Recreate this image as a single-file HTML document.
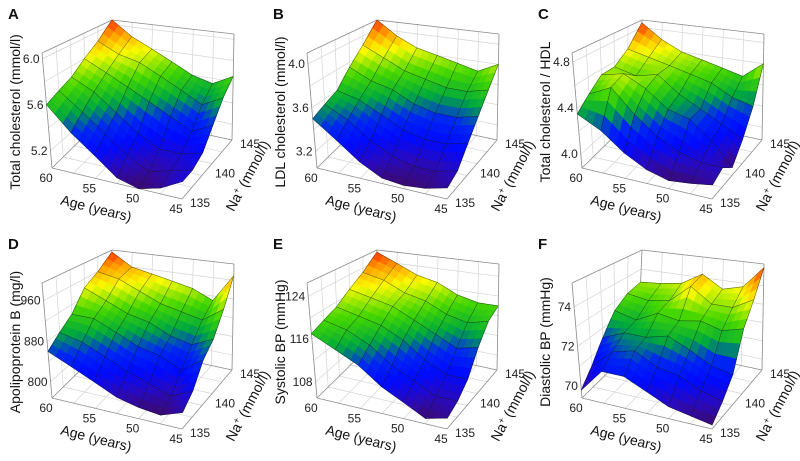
<!DOCTYPE html>
<html><head><meta charset="utf-8">
<style>
html,body{margin:0;padding:0;background:#fff;}
svg{display:block;font-family:"Liberation Sans",Arial,sans-serif;}
</style></head>
<body>
<svg id="chart" width="800" height="461" viewBox="0 0 800 461" xmlns="http://www.w3.org/2000/svg"></svg>
<script>
// ---- data (rows: Na 135..145, cols: age 60..45) ----
const ages = [60, 57.5, 55, 52.5, 50, 47.5, 45];
const sodium = [135, 137, 139, 141, 143, 145];
const ageTicks = [60, 55, 50, 45];
const naTicks = [135, 140, 145];
const panelLetters = ["A","B","C","D","E","F"];
const panelTitles = ["Total cholesterol (mmol/l)","LDL cholesterol (mmol/l)","Total cholesterol / HDL","Apolipoprotein B (mg/l)","Systolic BP (mmHg)","Diastolic BP (mmHg)"];
const zTicksA = [5.2, 5.6, 6.0];
const zTicksB = [3.2, 3.6, 4.0];
const zTicksC = [4.0, 4.4, 4.8];
const zTicksD = [800, 880, 960];
const zTicksE = [108, 116, 124];
const zTicksF = [70, 72, 74];
const zRangeA = [5.05, 6.05];
const zRangeB = [3.05, 4.1];
const zRangeC = [3.88, 4.88];
const zRangeD = [768, 995];
const zRangeE = [105, 126.5];
const zRangeF = [69.4, 75.2];
const valuesA = [
 [5.6,5.4,5.25,5.1,5.05,5.1,5.2],
 [5.65,5.5,5.35,5.2,5.1,5.15,5.2],
 [5.7,5.6,5.45,5.3,5.2,5.2,5.25],
 [5.8,5.7,5.6,5.5,5.4,5.3,5.4],
 [5.9,5.8,5.75,5.65,5.55,5.45,5.55],
 [6.05,5.9,5.8,5.7,5.6,5.55,5.65]];
const valuesB = [
 [3.5,3.35,3.2,3.1,3.08,3.1,3.15],
 [3.55,3.45,3.3,3.2,3.15,3.15,3.2],
 [3.6,3.55,3.45,3.35,3.3,3.3,3.35],
 [3.75,3.65,3.6,3.5,3.45,3.45,3.5],
 [3.9,3.8,3.7,3.65,3.6,3.6,3.65],
 [4.1,3.95,3.85,3.8,3.75,3.7,3.8]];
const valuesC = [
 [4.35,4.25,4.1,4.0,3.95,3.97,4.0],
 [4.45,4.55,4.35,4.2,4.1,4.05,4.05],
 [4.55,4.6,4.5,4.35,4.3,4.15,3.95],
 [4.55,4.5,4.55,4.4,4.3,4.2,4.1],
 [4.65,4.6,4.55,4.5,4.45,4.35,4.3],
 [4.85,4.7,4.6,4.55,4.5,4.45,4.6]];
const valuesD = [
 [860,840,820,800,790,785,800],
 [880,870,850,830,815,800,820],
 [900,900,880,860,850,830,860],
 [940,920,900,890,870,860,880],
 [960,950,930,910,900,890,920],
 [990,960,950,940,930,910,970]];
const valuesE = [
 [117,115,113,110,108,106,107],
 [118,117,115,112,110,108,108],
 [119,118,117,115,112,110,110],
 [121,120,119,117,115,113,114],
 [123,122,120,119,117,116,117],
 [126,124,122,121,119,118,118]];
const valuesF = [
 [69.8,71,71,70.5,70,69.8,69.6],
 [70.5,71.5,71.8,71.2,71,70.5,70.2],
 [71.5,72,72,72.3,71.8,71.2,71],
 [72.5,72.2,72.8,72.6,72.8,72.5,72.8],
 [73,72.8,73,74,73.2,73.2,73.8],
 [73.2,73.3,73.5,74.2,73.5,73.8,75]];

const panels = [
 {ox:0,oy:0,values:valuesA,ticks:zTicksA,range:zRangeA},
 {ox:265,oy:0,values:valuesB,ticks:zTicksB,range:zRangeB},
 {ox:530,oy:0,values:valuesC,ticks:zTicksC,range:zRangeC},
 {ox:0,oy:230,values:valuesD,ticks:zTicksD,range:zRangeD},
 {ox:265,oy:230,values:valuesE,ticks:zTicksE,range:zRangeE},
 {ox:530,oy:230,values:valuesF,ticks:zTicksF,range:zRangeF}];

const NS = "http://www.w3.org/2000/svg";
const svg = document.getElementById("chart");
const FL = [[52,168],[182,199],[232,140],[108,113]];
const TP = [[42,53],[186,82],[234,34],[112,20]];
function lerp(a,b,t){return [a[0]+(b[0]-a[0])*t,a[1]+(b[1]-a[1])*t];}
function proj(u,v,w,ox,oy){
  const f = lerp(lerp(FL[0],FL[1],u),lerp(FL[3],FL[2],u),v);
  const t = lerp(lerp(TP[0],TP[1],u),lerp(TP[3],TP[2],u),v);
  const p = lerp(f,t,w);
  return [p[0]+ox,p[1]+oy];
}
const stops=[[0,[60,10,110]],[0.1,[40,10,190]],[0.22,[0,10,255]],[0.34,[0,40,240]],[0.46,[0,170,60]],[0.6,[70,215,0]],[0.76,[250,250,0]],[0.89,[255,150,0]],[1,[255,40,0]]];
function cmap(t){
  t=Math.max(0,Math.min(1,t));
  for(let i=1;i<stops.length;i++){ if(t<=stops[i][0]){const a=stops[i-1],b=stops[i];const k=(t-a[0])/(b[0]-a[0]);
    return "rgb("+a[1].map((c,j)=>Math.round(c+(b[1][j]-c)*k)).join(",")+")";}}
  return "rgb(255,40,0)";
}
function el(tag,attrs,parent){const e=document.createElementNS(NS,tag);for(const k in attrs)e.setAttribute(k,attrs[k]);(parent||svg).appendChild(e);return e;}
function line(g,a,b,stroke,w){return el("line",{x1:a[0],y1:a[1],x2:b[0],y2:b[1],stroke:stroke,"stroke-width":w},g);}

panels.forEach((P,pi)=>{
  const g = el("g",{});
  
  
  const {ox,oy,values,ticks,range} = P;
  const zw = z=>(z-range[0])/(range[1]-range[0]);
  const ua = a=>(60-a)/15, vn = n=>(n-135)/10;
  const pr=(u,v,w)=>proj(u,v,w,ox,oy);
  const grid="#d4d4d4", edge="#8a8a8a";
  const zg=[]; ticks.forEach((t,i)=>{zg.push(t); if(i<ticks.length-1) zg.push((t+ticks[i+1])/2);});
  zg.forEach(z=>{const w=zw(z); if(w<0||w>1)return;
    line(g,pr(0,0,w),pr(0,1,w),grid,0.7); line(g,pr(0,1,w),pr(1,1,w),grid,0.7);});
  for(let a=57.5;a>45;a-=2.5){const u=ua(a); line(g,pr(u,1,0),pr(u,1,1),grid,0.7); line(g,pr(u,0,0),pr(u,1,0),grid,0.7);}
  for(let n=137;n<145;n+=2){const v=vn(n); line(g,pr(0,v,0),pr(0,v,1),grid,0.7); line(g,pr(0,v,0),pr(1,v,0),grid,0.7);}
  [[[0,0,0],[0,0,1]],[[0,1,0],[0,1,1]],[[1,1,0],[1,1,1]],[[0,0,1],[0,1,1]],[[0,1,1],[1,1,1]],
   [[0,0,0],[1,0,0]],[[1,0,0],[1,1,0]],[[0,0,0],[0,1,0]],[[0,1,0],[1,1,0]]].forEach(e=>line(g,pr(...e[0]),pr(...e[1]),edge,0.8));
  const sg = el("g",{},g);
  
  
  let vmin=Infinity,vmax=-Infinity; values.forEach(r=>r.forEach(z=>{vmin=Math.min(vmin,z);vmax=Math.max(vmax,z);}));
  const S=3, quads=[];
  const nu=ages.length, nv=sodium.length;
  function val(fi,fj){
    const i=Math.min(Math.floor(fi),nv-2), j=Math.min(Math.floor(fj),nu-2);
    const a=fi-i,b=fj-j;
    return values[i][j]*(1-a)*(1-b)+values[i+1][j]*a*(1-b)+values[i][j+1]*(1-a)*b+values[i+1][j+1]*a*b;}
  for(let i=0;i<nv-1;i++)for(let j=0;j<nu-1;j++)for(let si=0;si<S;si++)for(let sj=0;sj<S;sj++){
    const fi0=i+si/S,fi1=i+(si+1)/S,fj0=j+sj/S,fj1=j+(sj+1)/S;
    const pts=[[fi0,fj0],[fi0,fj1],[fi1,fj1],[fi1,fj0]].map(([fi,fj])=>{
      const z=val(fi,fj); return {p:pr(ua(ages[0]-fj*2.5),vn(135+fi*2),zw(z)),z};});
    const zavg=pts.reduce((s,q)=>s+q.z,0)/4;
    const depth=(1-(fj0+fj1)/2/(nu-1))+((fi0+fi1)/2/(nv-1));
    quads.push({pts,zavg,depth});
  }
  quads.sort((a,b)=>b.depth-a.depth);
  quads.forEach(q=>{
    const c=cmap((q.zavg-vmin)/(vmax-vmin));
    const poly=el("polygon",{points:q.pts.map(o=>o.p.join(",")).join(" "),fill:c,stroke:c,"stroke-width":0.6},sg);
    
    
  });
  const mg=el("g",{fill:"none",stroke:"#1a1a1a","stroke-width":0.5,"stroke-opacity":0.75},sg);
  for(let i=0;i<nv;i++){const d=values[i].map((z,j)=>pr(ua(ages[j]),vn(sodium[i]),zw(z)).join(",")).join(" ");
    el("polyline",{points:d},mg);}
  for(let j=0;j<nu;j++){const d=values.map((r,i)=>pr(ua(ages[j]),vn(sodium[i]),zw(r[j])).join(",")).join(" ");
    el("polyline",{points:d},mg);}
  const lt=el("text",{x:ox+8,y:oy+19,"font-size":15,"font-weight":"bold",fill:"#111"},g); lt.textContent=panelLetters[pi];
  
  
  const intTicks = ticks.every(t=>Number.isInteger(t));
  ticks.forEach(t=>{const p=pr(0,0,zw(t));const tx=el("text",{x:p[0]-3,y:p[1]+4,"font-size":12,"text-anchor":"end",fill:"#222"},g);tx.textContent=intTicks?String(t):t.toFixed(1);
    
    });
  ageTicks.forEach(a=>{const p=pr(ua(a),0,0);const tx=el("text",{x:p[0]-6,y:p[1]+14,"font-size":12,"text-anchor":"middle",fill:"#222"},g);tx.textContent=a;
    
    });
  naTicks.forEach(n=>{const p=pr(1,vn(n),0);const tx=el("text",{x:p[0]+8,y:p[1]+8,"font-size":12,"text-anchor":"start",fill:"#222"},g);tx.textContent=n;
    
    });
  const zt=el("text",{transform:`translate(${ox+20},${oy+112}) rotate(-90)`,"font-size":14,"text-anchor":"middle",fill:"#111"},g);zt.textContent=panelTitles[pi];
  
  
  const at=el("text",{transform:`translate(${ox+95},${oy+213}) rotate(14)`,"font-size":14,"text-anchor":"middle",fill:"#111"},g);at.textContent="Age (years)";
  
  
  const nt=el("text",{transform:`translate(${ox+252},${oy+178}) rotate(-62)`,"font-size":14,"text-anchor":"middle",fill:"#111"},g);
  nt.innerHTML='Na<tspan dy="-5" font-size="9">+</tspan><tspan dy="5"> (mmol/l)</tspan>';
  
  
});
</script>
</body></html>
